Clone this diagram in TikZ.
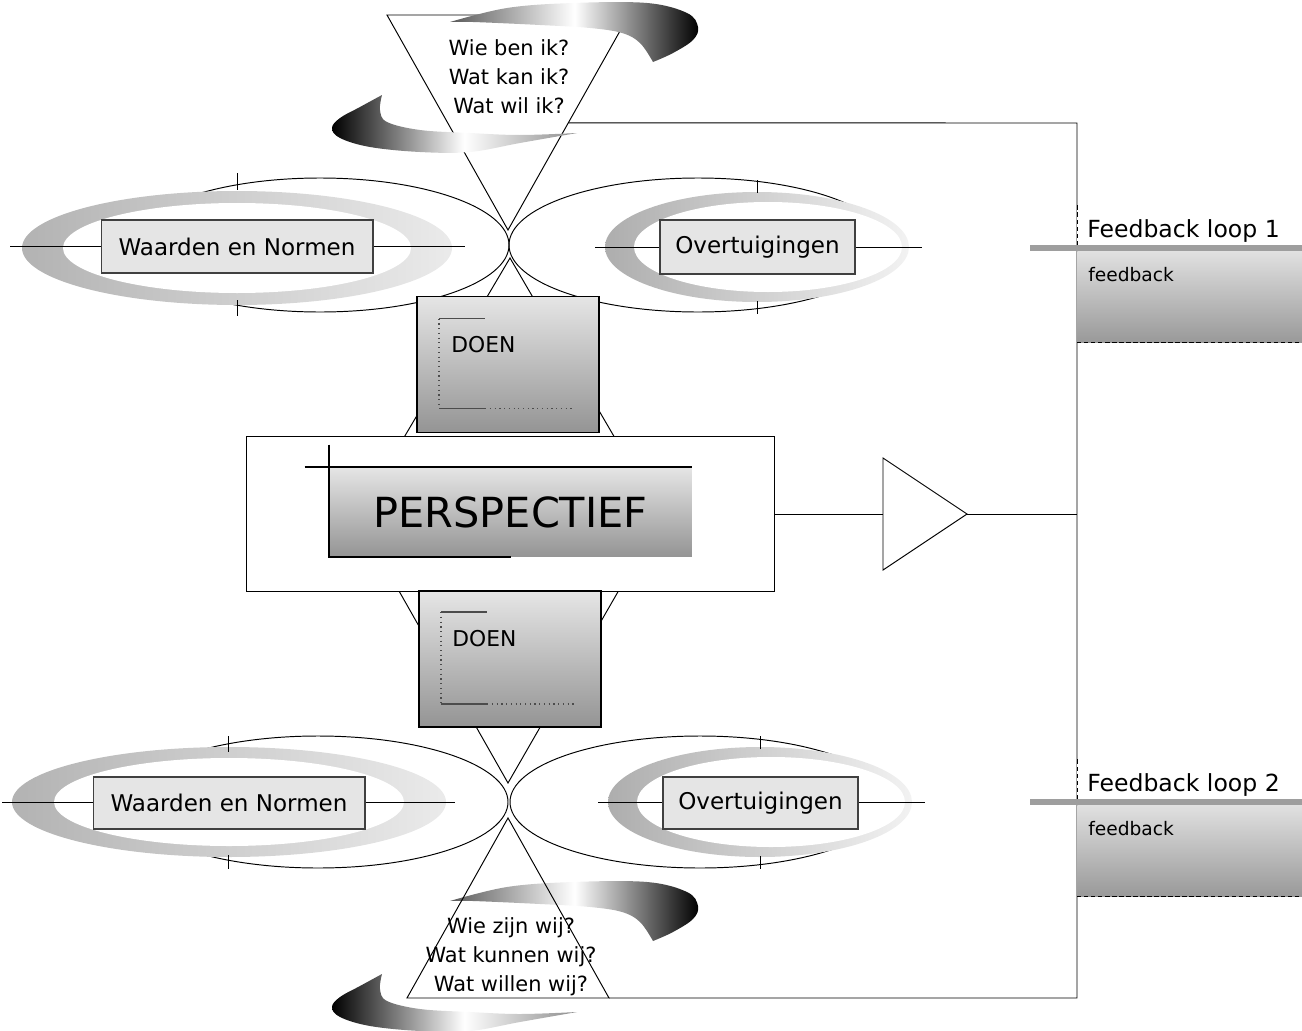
\documentclass[tikz,border=0pt]{standalone}
\usepackage{fontspec}
\setmainfont{DejaVu Sans}
\usetikzlibrary{positioning,calc}

% metal look of the swooshes round the triangles
\pgfdeclarehorizontalshading{swooshright}{100bp}{color(0bp)=(black!65); color(25bp)=(black!65); color(50bp)=(white); color(75bp)=(black); color(100bp)=(black)}
\pgfdeclarehorizontalshading{swooshleft}{100bp}{color(0bp)=(black); color(25bp)=(black); color(52bp)=(white); color(75bp)=(black!45); color(100bp)=(black!45)}

% the two swooshes of one triangle
\newcommand{\swooshes}{%
  \shade[shading=swooshright] plot[smooth, tension=0.6] coordinates {(450,22) (507,8) (573,3) (647,3) (687,13) (698,27) (693,40) (673,53) (653,62)}
    -- plot[smooth, tension=0.6] coordinates {(653,62) (640,43) (622,33) (590,28) (540,25) (473,22) (450,22)} -- cycle;
  \shade[shading=swooshleft] plot[smooth, tension=0.6] coordinates {(382,95) (360,107) (340,118) (332,128) (340,138) (370,147) (420,152) (470,152) (520,143) (577,133)}
    -- plot[smooth, tension=0.6] coordinates {(577,133) (520,135) (470,133) (420,130) (387,122) (380,110) (382,95)} -- cycle;
}

\tikzset{
  thinline/.style={line width=0.55pt},
  valuebox/.style={draw=black!75, line width=0.6pt, fill=black!10, inner sep=0pt,
    font=\fontsize{13.1}{16}\selectfont},
  doenbox/.style={draw, line width=1.1pt, top color=black!10, bottom color=black!42,
    minimum width=3.64cm, minimum height=2.72cm},
  doenlabel/.style={anchor=west, inner sep=0pt, font=\fontsize{12.4}{15}\selectfont},
  bracket/.style={black!70, line width=0.7pt},
  question/.style={align=center, font=\fontsize{11.9}{16.4}\selectfont},
  fbwhite/.style={anchor=south west, fill=white, minimum width=4.5cm, minimum height=0.8cm},
  fbbody/.style={anchor=north west, top color=black!12, bottom color=black!40,
    minimum width=4.5cm, minimum height=1.82cm},
  fbrule/.style={line width=3.4pt, black!38},
  fbdash/.style={line width=0.5pt, dash pattern=on 2.5pt off 1.5pt},
  fbtitle/.style={anchor=base west, inner sep=0pt, font=\fontsize{13.4}{16}\selectfont},
  fbtext/.style={anchor=base west, inner sep=0pt, font=\fontsize{10.6}{13}\selectfont},
}

\begin{document}
\begin{tikzpicture}[x=0.02cm, y=-0.02cm]
  \useasboundingbox (0,0) rectangle (1302,1031);

  % Corners of the feedback loop on the right
  \coordinate (loopTop) at (1077,123);
  \coordinate (loopBottom) at (1077,998);

  % Top triangle: questions of the individual
  \coordinate (topL) at (387,15);
  \coordinate (topR) at (629,15);
  \coordinate (topA) at (508,230);
  \coordinate (topExit) at ($(topR)!0.502!(topA)$);
  \draw[thinline] (topL) -- (topR) -- (topA) -- cycle;
  \node[question] (ikText) at (509,77) {Wie ben ik?\\Wat kan ik?\\Wat wil ik?};
  \swooshes

  % Diamond behind DOEN and PERSPECTIEF
  \coordinate (diaTop) at (510,258);
  \coordinate (diaBottom) at (508,783);
  \draw[thinline] (diaTop) -- (357,517) -- (diaBottom) -- (661,517) -- cycle;

  % Waarden en Normen, top
  \draw[thinline] (320,245) ellipse [x radius=189, y radius=67];
  \shade[left color=black!30, right color=black!8] (237,248) ellipse [x radius=215, y radius=57];
  \fill[white] (237,248) ellipse [x radius=174, y radius=45];
  \draw[thinline] (10,246) -- (465,246) (237,173) -- (237,190) (237,300) -- (237,316);
  \node[valuebox, minimum width=5.44cm, minimum height=1.06cm] (wnTop) at (237,246.5) {Waarden en Normen};

  % Overtuigingen, top
  \draw[thinline] (698,245) ellipse [x radius=189, y radius=67];
  \shade[left color=black!32, right color=black!5] (757,247) ellipse [x radius=152, y radius=55];
  \fill[white] (768,247) ellipse [x radius=134, y radius=45];
  \draw[thinline] (595,247) -- (922,247) (757,180) -- (757,193) (757,301) -- (757,314);
  \node[valuebox, minimum width=3.9cm, minimum height=1.08cm] (ovTop) at (757.5,247) {Overtuigingen};

  % DOEN, top
  \node[doenbox] (doenTop) at (508,364.5) {};
  \draw[bracket] ([shift={(23,23)}]doenTop.north west) coordinate (bkTopA) -- ++(46,0);
  \draw[bracket, dotted] (bkTopA) -- ++(0,90) coordinate (bkTopB);
  \draw[bracket] (bkTopB) -- ++(46,0) coordinate (bkTopC);
  \draw[bracket, dotted] (bkTopC) -- ++(90,0);
  \node[doenlabel] (doenTopText) at ([shift={(35,49)}]doenTop.north west) {DOEN};

  % PERSPECTIEF
  \node[draw, thinline, fill=white, minimum width=10.58cm, minimum height=3.1cm] (perspBox) at (510.5,514) {};
  \node[top color=black!10, bottom color=black!42, minimum width=7.26cm, minimum height=1.8cm,
    font=\fontsize{23.6}{28}\selectfont] (persp) at (510.5,512) {PERSPECTIEF};
  \draw[line width=1pt] ([shift={(-24,0)}]persp.north west) -- (persp.north east);
  \draw[line width=1pt] ([shift={(0,-22)}]persp.north west) -- (persp.south west) -- ++(182,0);

  % DOEN, bottom
  \node[doenbox] (doenBottom) at (510,659) {};
  \draw[bracket] ([shift={(23,22)}]doenBottom.north west) coordinate (bkBotA) -- ++(46,0);
  \draw[bracket, dotted] (bkBotA) -- ++(0,92) coordinate (bkBotB);
  \draw[bracket] (bkBotB) -- ++(46,0) coordinate (bkBotC);
  \draw[bracket, dotted] (bkBotC) -- ++(90,0);
  \node[doenlabel] (doenBottomText) at ([shift={(34,49)}]doenBottom.north west) {DOEN};

  % Triangle on the way to the loop
  \coordinate (ampTop) at (883,458);
  \coordinate (ampBottom) at (883,570);
  \coordinate (ampTip) at (967,514);
  \draw[thinline] (ampTop) -- (ampTip) -- (ampBottom) -- cycle;
  \draw[thinline] (perspBox.east) -- ($(ampTop)!0.5!(ampBottom)$);
  \draw[thinline] (ampTip) -- (ampTip -| loopTop);

  % Waarden en Normen, bottom
  \draw[thinline] (318,802) ellipse [x radius=190, y radius=66];
  \shade[left color=black!30, right color=black!8] (229,802) ellipse [x radius=217, y radius=55];
  \fill[white] (229,802) ellipse [x radius=175, y radius=44];
  \draw[thinline] (2,802) -- (455,802) (228,736) -- (228,752) (228,855) -- (228,869);
  \node[valuebox, minimum width=5.44cm, minimum height=1.04cm] (wnBottom) at (229,803) {Waarden en Normen};

  % Overtuigingen, bottom
  \draw[thinline] (700,802) ellipse [x radius=190, y radius=66];
  \shade[left color=black!32, right color=black!5] (760,802) ellipse [x radius=152, y radius=55];
  \fill[white] (771,802) ellipse [x radius=134, y radius=45];
  \draw[thinline] (598,802) -- (925,802) (760,736) -- (760,749) (760,856) -- (760,869);
  \node[valuebox, minimum width=3.9cm, minimum height=1.04cm] (ovBottom) at (760.5,803) {Overtuigingen};

  % Bottom triangle: questions of the group
  \begin{scope}[shift={(0,879)}]
    \swooshes
  \end{scope}
  \coordinate (botL) at (407,998);
  \coordinate (botR) at (609,998);
  \coordinate (botA) at (508,818);
  \draw[thinline] (botL) -- (botR) -- (botA) -- cycle;
  \node[question] (wijText) at (511,957) {Wie zijn wij?\\Wat kunnen wij?\\Wat willen wij?};

  % Feedback loop
  \draw[thinline] (topExit) -- (loopTop) -- (loopBottom) -- (botR);

  % Feedback loop 1
  \node[fbwhite] (fbOneBox) at (1077,245) {};
  \draw[fbdash] (fbOneBox.south west) -- (fbOneBox.north west);
  \draw[fbrule] (1030,248) -- (1302,248);
  \node[fbbody] (fbOneBody) at (1077,251) {};
  \draw[fbdash] (fbOneBody.south west) -- (fbOneBody.south east);
  \node[fbtitle] (fbOneTitle) at (1087,237) {Feedback loop 1};
  \node[fbtext] (fbOneText) at (1088,281) {feedback};

  % Feedback loop 2
  \node[fbwhite] (fbTwoBox) at (1077,799) {};
  \draw[fbdash] (fbTwoBox.south west) -- (fbTwoBox.north west);
  \draw[fbrule] (1030,802) -- (1302,802);
  \node[fbbody] (fbTwoBody) at (1077,805) {};
  \draw[fbdash] (fbTwoBody.south west) -- (fbTwoBody.south east);
  \node[fbtitle] (fbTwoTitle) at (1087,791) {Feedback loop 2};
  \node[fbtext] (fbTwoText) at (1088,835) {feedback};
\end{tikzpicture}
\end{document}
